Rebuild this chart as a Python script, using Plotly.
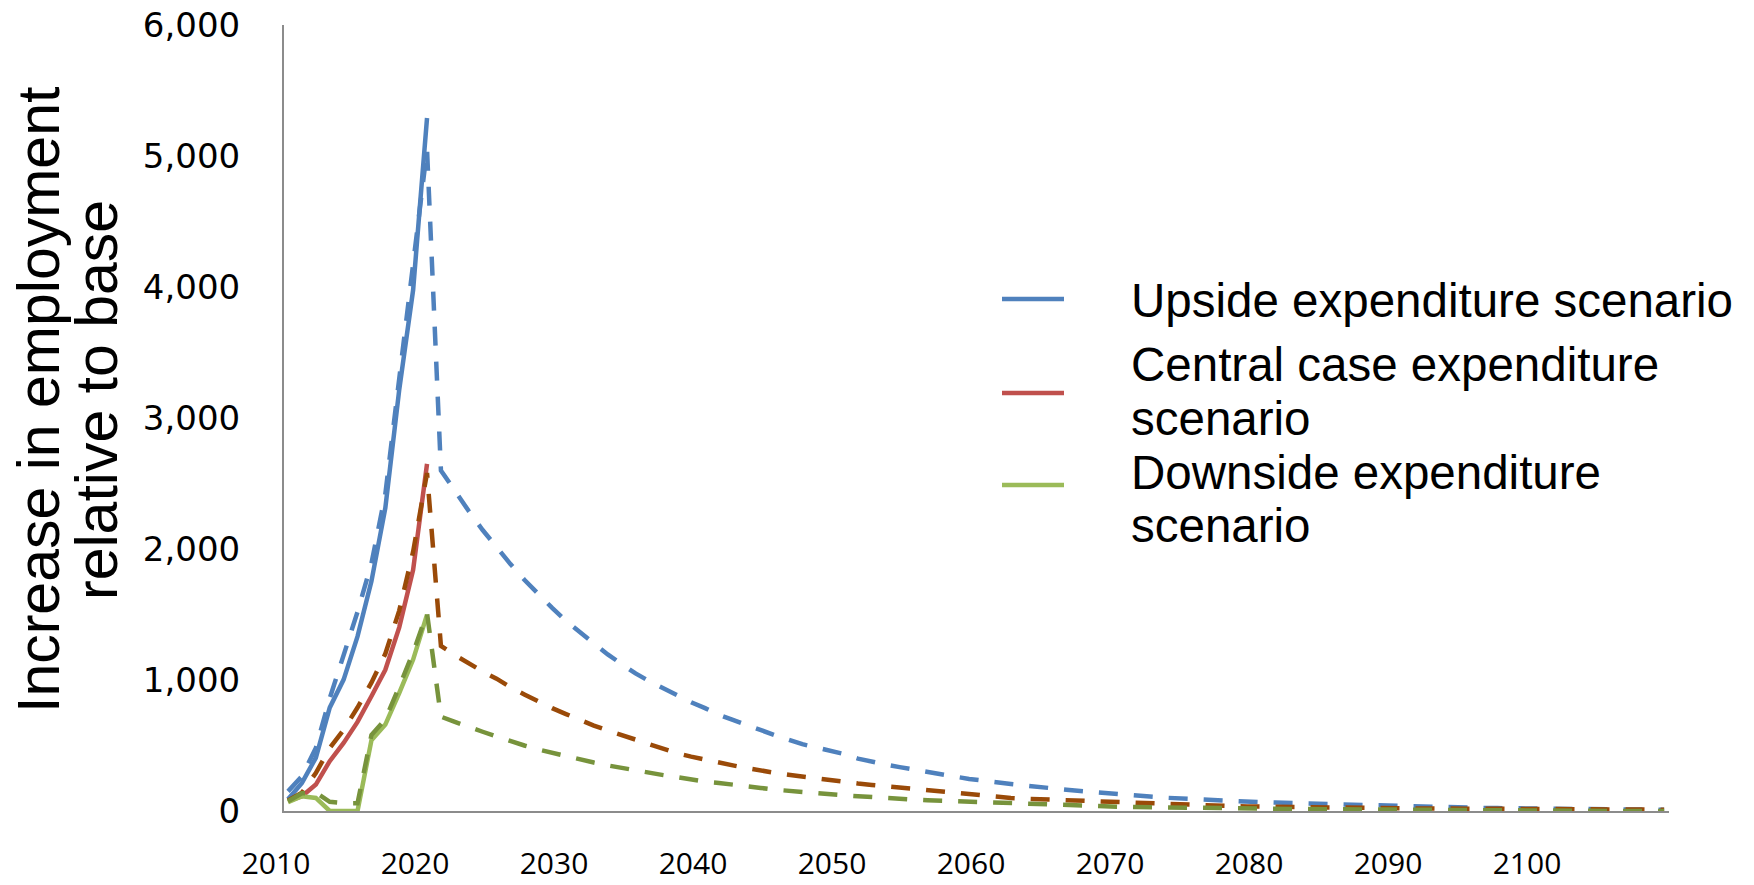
import plotly.graph_objects as go

# ---------------------------------------------------------------- data
years = list(range(2010, 2110))
build_years = years[:11]          # 2010-2020 build-out period

# Solid lines: employment during the build-out (2010-2020)
upside_build = [90, 215, 406, 789, 1003, 1333, 1753, 2313, 3215, 3978, 5290]
central_build = [75, 113, 202, 380, 520, 680, 876, 1078, 1402, 1841, 2650]
downside_build = [67, 113, 100, 0, 0, 0, 540, 660, 901, 1156, 1499]

# Dashed lines: full path including the post-2020 tail (2010-2109)
upside_path = [
    150, 265, 480, 860, 1190, 1520, 1890, 2420, 3300, 4150, 5050,
    2600, 2440, 2290, 2145, 2010, 1885, 1765, 1655, 1550, 1450,
    1360, 1280, 1195, 1120, 1050, 990, 935, 880, 830, 785,
    735, 695, 655, 620, 580, 545, 510, 485, 460, 435,
    400, 375, 355, 335, 315, 295, 280, 262, 245, 230,
    218, 206, 195, 182, 172, 162, 152, 142, 134, 126,
    118, 110, 102, 96, 91, 88, 82, 76, 71, 67,
    64, 61, 57, 53, 50, 47, 44, 41, 37, 34,
    32, 30, 29, 27, 25, 23, 22, 20, 19, 18,
    17, 16, 15, 14, 13, 12, 12, 11, 10,
]
central_path = [
    80, 140, 290, 480, 620, 790, 980, 1200, 1530, 1980, 2580,
    1260, 1190, 1125, 1065, 1010, 945, 890, 835, 785, 740,
    695, 652, 615, 580, 545, 505, 470, 440, 415, 390,
    368, 348, 328, 308, 292, 277, 262, 248, 235, 222,
    210, 199, 189, 178, 168, 160, 150, 136, 125, 116,
    106, 99, 94, 90, 85, 80, 76, 72, 68, 64,
    59, 53, 50, 46, 43, 41, 39, 37, 35, 33,
    32, 31, 30, 29, 27, 26, 24, 23, 22, 21,
    20, 19, 18, 17, 16, 16, 15, 15, 14, 14,
    13, 13, 12, 12, 11, 11, 10, 10, 10,
]
downside_path = [
    75, 135, 140, 70, 60, 60, 580, 700, 950, 1210, 1510,
    720, 680, 640, 605, 570, 532, 500, 470, 443, 418,
    393, 370, 348, 328, 307, 290, 274, 258, 240, 224,
    214, 204, 190, 176, 163, 153, 143, 135, 127, 120,
    113, 105, 98, 92, 87, 82, 78, 74, 70, 65,
    61, 57, 53, 49, 45, 41, 38, 36, 34, 32,
    30, 28, 27, 25, 24, 23, 21, 20, 19, 18,
    17, 16, 15, 14, 13, 12, 11, 10, 9, 8,
    7, 6, 5, 4, 3, 2, 1, 0, 0, 0,
    0, 0, 0, 0, 0, 0, 0, 0, 0,
]

legend_lines = [
    ["Upside expenditure scenario"],
    ["Central case expenditure", "scenario"],
    ["Downside expenditure", "scenario"],
]
y_title_lines = ["Increase in employment", "relative to base"]
x_tick_years = list(range(2010, 2101, 10))
y_tick_values = [0, 1000, 2000, 3000, 4000, 5000, 6000]

# ---------------------------------------------------------------- styling
solid_colors = ["#4F81BD", "#C0504D", "#9BBB59"]
dashed_colors = ["#4F81BD", "#9A4A08", "#77933C"]
LINE_W = 4.5
DASH = "19px,16px"

W, H = 1754, 885
L, R, T, B = 284, 1669, 25, 811     # plot-area edges in pixels


def px_x(px):
    return (px - L) / (R - L)


def px_y(py):
    return (B - py) / (B - T)


fig = go.Figure()

for ys, c in zip([upside_build, central_build, downside_build], solid_colors):
    fig.add_trace(go.Scatter(x=build_years, y=ys, mode="lines",
                             line=dict(color=c, width=LINE_W),
                             showlegend=False, hoverinfo="skip"))

for ys, c in zip([upside_path, central_path, downside_path], dashed_colors):
    fig.add_trace(go.Scatter(x=years, y=ys, mode="lines",
                             line=dict(color=c, width=LINE_W, dash=DASH),
                             showlegend=False, hoverinfo="skip"))

# ---------------------------------------------------------------- legend
legend_font = dict(family="Liberation Sans, Arial, sans-serif", size=47.5, color="black")
swatch_y = [299, 393, 485]
text_mid_y = [[300], [364, 418], [472, 525]]
annotations = []
shapes = []
for lines, c, sy, ty in zip(legend_lines, solid_colors, swatch_y, text_mid_y):
    shapes.append(dict(type="line", xref="paper", yref="paper",
                       x0=px_x(1002), x1=px_x(1064), y0=px_y(sy), y1=px_y(sy),
                       line=dict(color=c, width=LINE_W)))
    for txt, y in zip(lines, ty):
        annotations.append(dict(text=txt, xref="paper", yref="paper",
                                x=px_x(1129), y=px_y(y), xanchor="left",
                                yanchor="middle", showarrow=False,
                                font=legend_font))

# ---------------------------------------------------------------- y-axis title
title_font = dict(family="Liberation Sans, Arial, sans-serif", size=59, color="black")
for txt, cx in zip(y_title_lines, [39, 97]):
    annotations.append(dict(text=txt, xref="paper", yref="paper",
                            x=px_x(cx), y=px_y(400), xanchor="center",
                            yanchor="middle", textangle=-90, showarrow=False,
                            font=title_font))

fig.update_layout(
    width=W, height=H, autosize=False,
    margin=dict(l=L, r=W - R, t=T, b=H - B, pad=0, autoexpand=False),
    paper_bgcolor="white", plot_bgcolor="white",
    showlegend=False,
    shapes=shapes, annotations=annotations,
    xaxis=dict(range=[2009.71, 2109.35], tickvals=x_tick_years,
               ticktext=[str(v) for v in x_tick_years],
               showgrid=False, zeroline=False, showline=True,
               linecolor="#8C8C8C", linewidth=2, ticks="",
               automargin=False,
               ticklabelstandoff=25, ticklabelshift=-12,
               tickfont=dict(family="Open Sans, sans-serif", size=30, color="black")),
    yaxis=dict(range=[0, 6000], tickvals=y_tick_values, tickformat=",",
               showgrid=False, zeroline=False, showline=True,
               linecolor="#8C8C8C", linewidth=2, ticks="",
               automargin=False,
               ticklabelstandoff=35,
               tickfont=dict(family="DejaVu Sans, sans-serif", size=34, color="black")),
)

fig.write_html("out.html")
